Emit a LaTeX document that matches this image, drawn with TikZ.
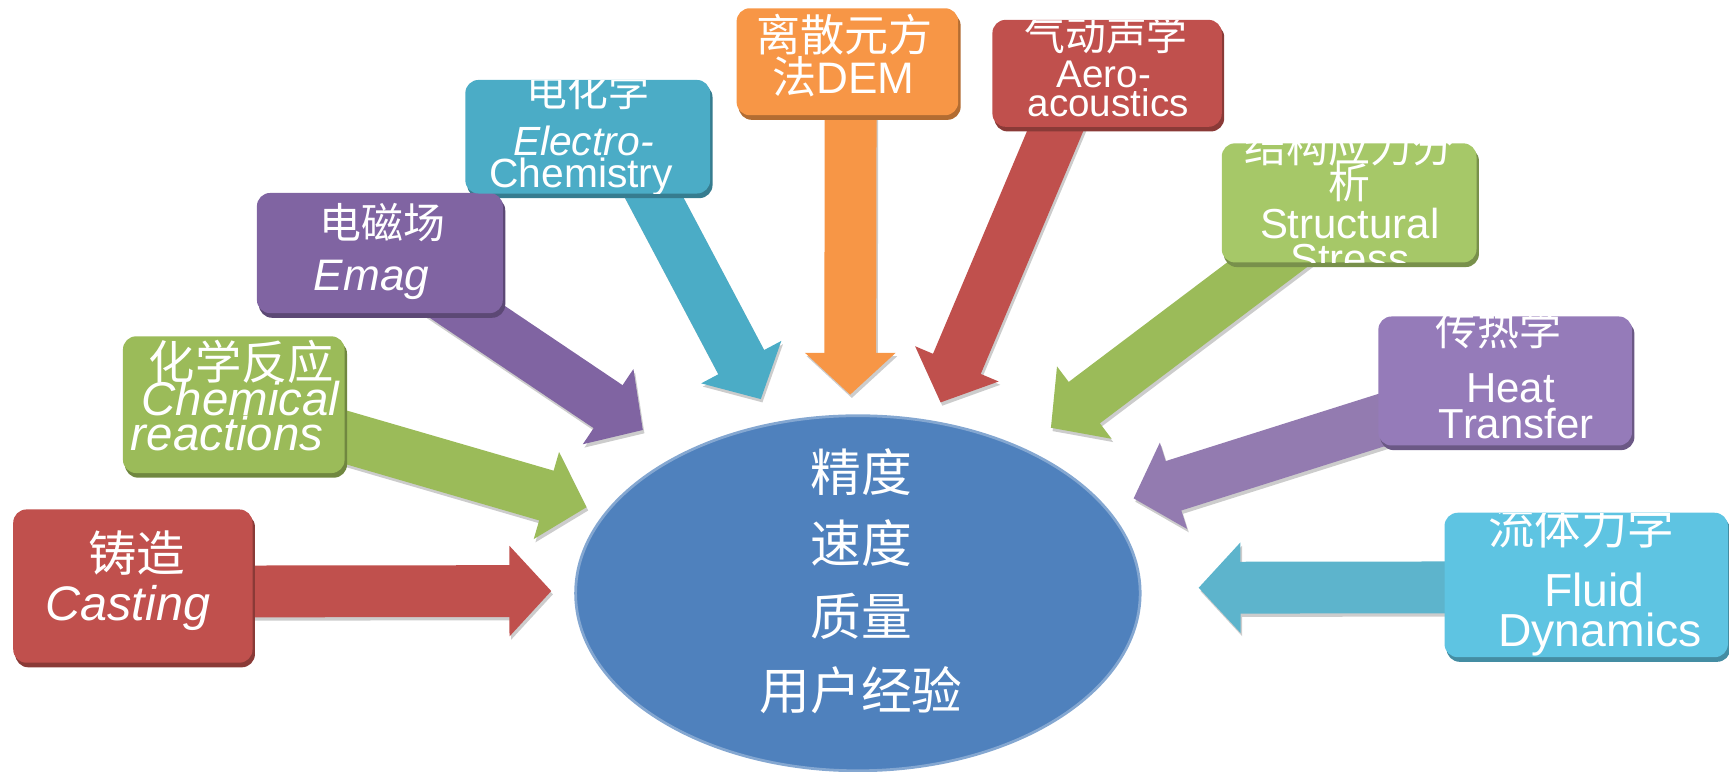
\documentclass[tikz,border=0pt]{standalone}
\usepackage{fontspec}
\setmainfont{Liberation Sans}
\newfontfamily\cjk{Noto Sans CJK SC}
\usetikzlibrary{arrows.meta,calc,shapes.geometric}
\pgfdeclarelayer{bg}
\pgfdeclarelayer{shad}
\pgfsetlayers{bg,shad,main}

\definecolor{cRed}{HTML}{C0504D}
\definecolor{cGreen}{HTML}{9BBB59}
\definecolor{cGreenL}{HTML}{A6C868}
\definecolor{cPurple}{HTML}{8064A2}
\definecolor{cPurpleL}{HTML}{957BB9}
\definecolor{cTeal}{HTML}{4BACC6}
\definecolor{cTealL}{HTML}{5EC4E2}
\definecolor{cOrange}{HTML}{F79646}
\definecolor{cBlue}{HTML}{4F81BD}

\tikzset{
  boxsty/.style={rounded corners=12pt, inner sep=0pt, draw=none},
  arr/.style={line width=47pt, -{Triangle[length=38pt,width=80pt]}},
  arrsh/.style={arr, color=black!20, transform canvas={shift={(1.5pt,-3pt)}}},
  txt/.style={text=white, inner sep=0pt, anchor=base},
}

\newcommand{\mkbox}[6]{%
  \node[boxsty, fill=#5, minimum width=#3, minimum height=#4] (#1) at #2 {};
  \begin{pgfonlayer}{shad}
    \fill[#5!72!black, rounded corners=12pt]
      ($(#1.south west)+(2,4)$) rectangle ($(#1.north east)+(2,4)$);
  \end{pgfonlayer}
  \begin{scope}
    \clip[rounded corners=12pt] (#1.south west) rectangle (#1.north east);
    #6
  \end{scope}}

\newcommand{\fs}[1]{\fontsize{#1}{#1}\selectfont}

\begin{document}
\begin{tikzpicture}[x=1pt,y=-1pt]
\useasboundingbox (0,0) rectangle (1568,700);

% central ellipse
\node[ellipse, fill=cBlue, draw=cBlue!70!white, line width=2.5pt,
      minimum width=512pt, minimum height=322pt, inner sep=0pt] (core) at (778,538) {};
\node[txt, font=\cjk\fs{46}] (coreA) at (781,446) {精度};
\node[txt, font=\cjk\fs{46}] (coreB) at (781,510) {速度};
\node[txt, font=\cjk\fs{46}] (coreC) at (781,576) {质量};
\node[txt, font=\cjk\fs{46}] (coreD) at (781,643) {用户经验};

% boxes
\mkbox{cast}{(120.5,531.5)}{217pt}{139pt}{cRed}{%
  \node[txt, font=\cjk\fs{44}] (castA) at (124,518) {铸造};
  \node[txt, font=\itshape\fs{44}] (castB) at (116,563) {Casting};}

\mkbox{chem}{(212,367)}{201pt}{124pt}{cGreen}{%
  \node[txt, font=\cjk\fs{42}] (chemA) at (219,344) {化学反应};
  \node[txt, font=\itshape\fs{43}] (chemB) at (218,377) {Chemical};
  \node[txt, font=\itshape\fs{43}] (chemC) at (206,409) {reactions};}

\mkbox{emag}{(344.5,229.5)}{223pt}{109pt}{cPurple}{%
  \node[txt, font=\cjk\fs{38}] (emagA) at (347,216) {电磁场};
  \node[txt, font=\itshape\fs{40}] (emagB) at (337,263) {Emag};}

\mkbox{elec}{(533,124)}{222pt}{103pt}{cTeal}{%
  \node[txt, font=\cjk\fs{37}] (elecA) at (533,97) {电化学};
  \node[txt, font=\itshape\fs{37}] (elecB) at (529,141) {Electro-};
  \node[txt, font=\fs{37}] (elecC) at (527,170) {Chemistry};}

\mkbox{dem}{(768.5,56)}{201pt}{97pt}{cOrange}{%
  \node[txt, font=\cjk\fs{40}] (demA) at (766,47) {离散元方};
  \node[txt, font=\fs{40}] (demB) at (765,85) {{\cjk 法}DEM};}

\mkbox{aero}{(1004,66.5)}{208pt}{97pt}{cRed}{%
  \node[txt, font=\cjk\fs{37}] (aeroA) at (1003,46) {气动声学};
  \node[txt, font=\fs{35}] (aeroB) at (1001,79) {Aero-};
  \node[txt, font=\fs{35}] (aeroC) at (1005,106) {acoustics};}

\mkbox{stru}{(1223.5,184)}{231pt}{108pt}{cGreenL}{%
  \node[txt, font=\cjk\fs{38}] (struA) at (1224,147) {结构应力分};
  \node[txt, font=\cjk\fs{38}] (struB) at (1224,180) {析};
  \node[txt, font=\fs{38}] (struC) at (1224,216) {Structural};
  \node[txt, font=\fs{38}] (struD) at (1224,248) {Stress};}

\mkbox{heat}{(1365,345.5)}{230pt}{117pt}{cPurpleL}{%
  \node[txt, font=\cjk\fs{38}] (heatA) at (1359,313) {传热学};
  \node[txt, font=\fs{38}] (heatB) at (1370,365) {Heat};
  \node[txt, font=\fs{38}] (heatC) at (1375,398) {Transfer};}

\mkbox{flui}{(1438.5,530.5)}{257pt}{131pt}{cTealL}{%
  \node[txt, font=\cjk\fs{42}] (fluiA) at (1434,494) {流体力学};
  \node[txt, font=\fs{42}] (fluiB) at (1446,550) {Fluid};
  \node[txt, font=\fs{42}] (fluiC) at (1451,586) {Dynamics};}

% arrow tips
\coordinate (castTip) at (500,536);
\coordinate (chemTip) at (532,460);
\coordinate (emagTip) at (583,390);
\coordinate (elecTip) at (690,362);
\coordinate (demTip)  at (771,358);
\coordinate (aeroTip) at (853,365);
\coordinate (struTip) at (953,388);
\coordinate (heatTip) at (1028,452);
\coordinate (fluiTip) at (1087,533);

\begin{pgfonlayer}{bg}
  \draw[arrsh] ($(cast.center)+(0,5)$) -- (castTip);
  \draw[arr, color=cRed] ($(cast.center)+(0,5)$) -- (castTip);
  \draw[arrsh] (chem.center) -- (chemTip);
  \draw[arr, color=cGreen] (chem.center) -- (chemTip);
  \draw[arrsh] (emag.center) -- (emagTip);
  \draw[arr, color=cPurple] (emag.center) -- (emagTip);
  \draw[arrsh] ($(elec.center)+(31,0)$) -- (elecTip);
  \draw[arr, color=cTeal] ($(elec.center)+(31,0)$) -- (elecTip);
  \draw[arrsh] ($(dem.center)+(3,0)$) -- (demTip);
  \draw[arr, color=cOrange] ($(dem.center)+(3,0)$) -- (demTip);
  \draw[arrsh] ($(aero.center)+(-25,0)$) -- (aeroTip);
  \draw[arr, color=cRed] ($(aero.center)+(-25,0)$) -- (aeroTip);
  \draw[arrsh] (stru.center) -- (struTip);
  \draw[arr, color=cGreen] (stru.center) -- (struTip);
  \draw[arrsh] (heat.center) -- (heatTip);
  \draw[arr, color=cPurple!85!white] (heat.center) -- (heatTip);
  \draw[arrsh] ($(flui.center)+(0,2)$) -- (fluiTip);
  \draw[arr, color=cTeal!90!white] ($(flui.center)+(0,2)$) -- (fluiTip);
\end{pgfonlayer}
\end{tikzpicture}
\end{document}
